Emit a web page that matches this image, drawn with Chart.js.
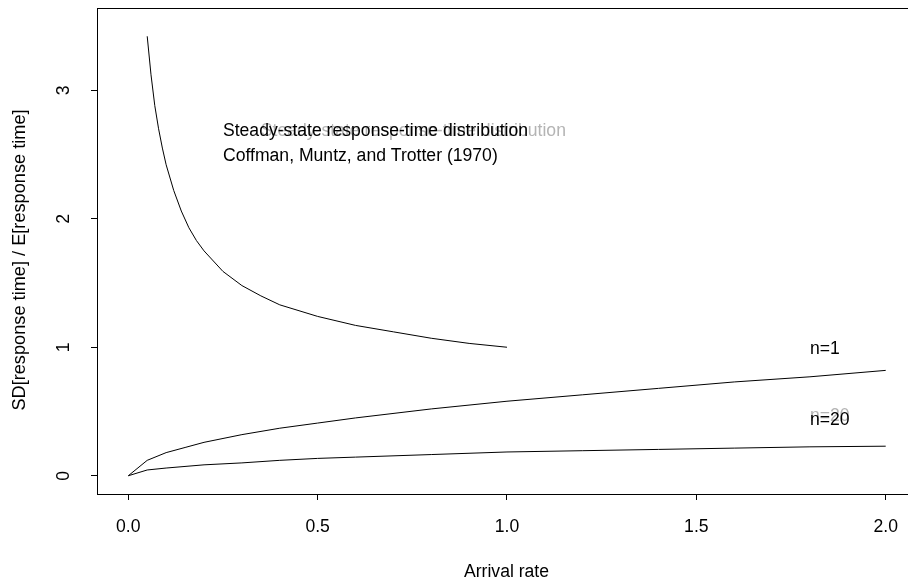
<!DOCTYPE html>
<html>
<head>
<meta charset="utf-8">
<script src="https://cdn.jsdelivr.net/npm/chart.js@4/dist/chart.umd.min.js"></script>
<style>
  html, body { margin: 0; padding: 0; background: #fff; overflow: hidden; }
  #wrap { width: 930px; height: 578px; }
</style>
</head>
<body>
<div id="wrap"><canvas id="chart" width="930" height="578"></canvas></div>
<script>
// upper curve (response-time distribution)
const rateUpper = [0.05, 0.06, 0.07, 0.08, 0.09, 0.1, 0.12, 0.14, 0.16, 0.18, 0.2, 0.25, 0.3, 0.35, 0.4, 0.5, 0.6, 0.7, 0.8, 0.9, 1.0];
const sdUpper   = [3.42, 3.12, 2.88, 2.70, 2.55, 2.42, 2.22, 2.06, 1.93, 1.83, 1.75, 1.59, 1.48, 1.40, 1.33, 1.24, 1.17, 1.12, 1.07, 1.03, 1.00];

// n=1
const rateN1 = [0, 0.05, 0.1, 0.15, 0.2, 0.3, 0.4, 0.5, 0.6, 0.8, 1.0, 1.2, 1.4, 1.6, 1.8, 2.0];
const sdN1   = [0, 0.12, 0.18, 0.22, 0.26, 0.32, 0.37, 0.41, 0.45, 0.52, 0.58, 0.63, 0.68, 0.73, 0.77, 0.82];

// n=20
const rateN20 = [0, 0.05, 0.1, 0.2, 0.3, 0.4, 0.5, 0.6, 0.8, 1.0, 1.2, 1.4, 1.6, 1.8, 2.0];
const sdN20   = [0, 0.045, 0.06, 0.085, 0.10, 0.12, 0.135, 0.145, 0.165, 0.185, 0.195, 0.205, 0.215, 0.225, 0.23];

const xTicks = [0, 0.5, 1.0, 1.5, 2.0];
const yTicks = [0, 1, 2, 3];

const FONT = "'Liberation Sans', Arial, Helvetica, sans-serif";
const FSIZE = 17.6;

// text notes drawn in data coordinates
const notes = [
  { x: 0.35, y: 2.7, text: "Steady-state response-time distribution", color: "#b4b4b4" },
  { x: 0.25, y: 2.7, text: "Steady-state response-time distribution", color: "#000" },
  { x: 0.25, y: 2.5, text: "Coffman, Muntz, and Trotter (1970)", color: "#000" },
  { x: 1.8, y: 1.0, text: "n=1", color: "#000" },
  { x: 1.8, y: 0.48, text: "n=20", color: "#b4b4b4" },
  { x: 1.8, y: 0.45, text: "n=20", color: "#000" }
];

const toPoints = (xs, ys) => xs.map((x, i) => ({ x: x, y: ys[i] }));

const lineStyle = {
  borderColor: "#000",
  borderWidth: 1,
  pointRadius: 0,
  tension: 0,
  fill: false
};

const rPlot = {
  id: "rPlot",
  afterDraw(chart) {
    const ctx = chart.ctx;
    const a = chart.chartArea;
    const xs = chart.scales.x;
    const ys = chart.scales.y;
    ctx.save();
    // box
    ctx.strokeStyle = "#000";
    ctx.lineWidth = 1;
    ctx.strokeRect(Math.round(a.left) + 0.5, Math.round(a.top) + 0.5,
      Math.round(a.right - a.left), Math.round(a.bottom - a.top));

    ctx.font = FSIZE + "px " + FONT;
    ctx.fillStyle = "#000";

    // y tick labels, rotated like R
    yTicks.forEach(v => {
      ctx.save();
      ctx.translate(69, ys.getPixelForValue(v));
      ctx.rotate(-Math.PI / 2);
      ctx.textAlign = "center";
      ctx.textBaseline = "alphabetic";
      ctx.fillText(String(v), 0, 0);
      ctx.restore();
    });

    // axis titles
    ctx.textAlign = "center";
    ctx.textBaseline = "alphabetic";
    ctx.fillText("Arrival rate", (a.left + a.right) / 2, 577);
    ctx.save();
    ctx.translate(25, 260);
    ctx.rotate(-Math.PI / 2);
    ctx.font = "18.2px " + FONT;
    ctx.fillText("SD[response time] / E[response time]", 0, 0);
    ctx.restore();

    // notes
    ctx.textAlign = "left";
    ctx.textBaseline = "middle";
    notes.forEach(n => {
      ctx.fillStyle = n.color;
      ctx.fillText(n.text, xs.getPixelForValue(n.x), ys.getPixelForValue(n.y) + 2);
    });
    ctx.restore();
  }
};

new Chart(document.getElementById("chart").getContext("2d"), {
  type: "line",
  data: {
    datasets: [
      Object.assign({ label: "distribution", data: toPoints(rateUpper, sdUpper) }, lineStyle),
      Object.assign({ label: "n=1", data: toPoints(rateN1, sdN1) }, lineStyle),
      Object.assign({ label: "n=20", data: toPoints(rateN20, sdN20) }, lineStyle)
    ]
  },
  options: {
    responsive: false,
    animation: false,
    layout: { padding: { top: 8, left: 0, right: 14, bottom: 0 } },
    plugins: { legend: { display: false }, tooltip: { enabled: false } },
    scales: {
      x: {
        type: "linear",
        min: -0.0826,
        max: 2.08,
        afterBuildTicks: s => { s.ticks = xTicks.map(v => ({ value: v })); },
        afterFit: s => { s.height = 84; },
        border: { display: false },
        grid: { drawOnChartArea: false, drawTicks: true, tickLength: 6, color: "#000" },
        ticks: {
          color: "#000",
          font: { size: FSIZE, family: FONT },
          padding: 17,
          maxRotation: 0,
          autoSkip: false,
          callback: v => Number(v).toFixed(1)
        }
      },
      y: {
        type: "linear",
        min: -0.142,
        max: 3.64,
        afterBuildTicks: s => { s.ticks = yTicks.map(v => ({ value: v })); },
        afterFit: s => { s.width = 97; },
        border: { display: false },
        grid: { drawOnChartArea: false, drawTicks: true, tickLength: 6, color: "#000" },
        ticks: { color: "rgba(0,0,0,0)", font: { size: 1, family: FONT }, autoSkip: false }
      }
    }
  },
  plugins: [rPlot]
});
</script>
</body>
</html>
